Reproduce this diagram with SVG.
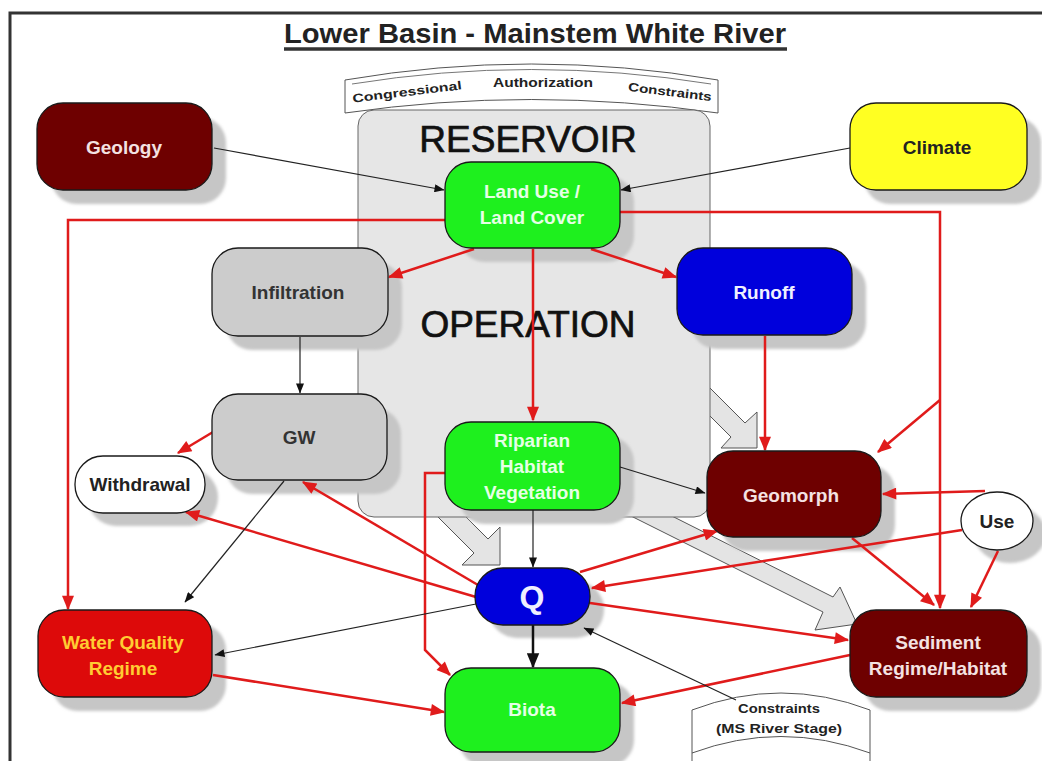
<svg xmlns="http://www.w3.org/2000/svg" width="1042" height="761" viewBox="0 0 1042 761">
  <defs>
    <style>
      .frame { stroke: #333; stroke-width: 3; fill: none; }
      .node { stroke: #1a1a1a; stroke-width: 1.3; }
      .sh { fill: #c6c6c6; filter: url(#soft); }
      .lbl { font-family: "Liberation Sans", Arial, sans-serif; font-weight: bold; font-size: 19px; text-anchor: middle; }
      .big { font-family: "Liberation Sans", Arial, sans-serif; font-size: 37px; text-anchor: middle; fill: #111; stroke: #111; stroke-width: 0.7; }
      .scroll { font-family: "Liberation Sans", Arial, sans-serif; font-weight: bold; font-size: 12px; text-anchor: middle; fill: #222; }
      .red { stroke: #e01b1b; stroke-width: 2.5; fill: none; marker-end: url(#arRed); }
      .blk { stroke: #222; stroke-width: 1.2; fill: none; marker-end: url(#arBlk); }
      .blkbig { stroke: #111; stroke-width: 2.5; fill: none; marker-end: url(#arBlkBig); }
      .block { fill: #e4e4e4; stroke: #555; stroke-width: 1; }
      .green { fill: #1ef01e; }
      .maroon { fill: #6e0000; }
      .blue { fill: #0000dc; }
      .grey { fill: #cccccc; }
      .white { fill: #ffffff; }
    </style>
    <filter id="soft" x="-10%" y="-10%" width="120%" height="120%">
      <feGaussianBlur stdDeviation="1.5"/>
    </filter>
    <marker id="arRed" viewBox="0 0 12 10" refX="11" refY="5" markerWidth="16" markerHeight="12" markerUnits="userSpaceOnUse" orient="auto">
      <path d="M0,0 L12,5 L0,10 z" fill="#e01b1b"/>
    </marker>
    <marker id="arBlk" viewBox="0 0 10 8" refX="9.5" refY="4" markerWidth="11" markerHeight="8" markerUnits="userSpaceOnUse" orient="auto">
      <path d="M0,0 L10,4 L0,8 z" fill="#111"/>
    </marker>
    <marker id="arBlkBig" viewBox="0 0 12 10" refX="11" refY="5" markerWidth="15" markerHeight="13" markerUnits="userSpaceOnUse" orient="auto">
      <path d="M0,0 L12,5 L0,10 z" fill="#111"/>
    </marker>
  </defs>

  <rect x="0" y="0" width="1042" height="761" fill="#ffffff"/>

  <!-- page frame -->
  <path class="frame" d="M10,761 V13 H1042"/>

  <!-- title -->
  <text x="535" y="43" font-family="'Liberation Sans', Arial, sans-serif" font-weight="bold" font-size="27" text-anchor="middle" fill="#222" textLength="502" lengthAdjust="spacingAndGlyphs">Lower Basin - Mainstem White River</text>
  <line x1="284" y1="49" x2="787" y2="49" stroke="#333" stroke-width="3.5"/>

  <!-- authorization ribbon -->
  <g id="authorization">
    <path d="M345,80 Q531,48 718,80 V113 Q531,86 345,113 Z" fill="#ffffff" stroke="#555" stroke-width="1"/>
    <path d="M352,84 Q531,55 711,84" fill="none" stroke="#777" stroke-width="1"/>
    <text class="scroll" x="407" y="96" transform="rotate(-7 407 92)" textLength="110" lengthAdjust="spacingAndGlyphs">Congressional</text>
    <text class="scroll" x="543" y="87" textLength="100" lengthAdjust="spacingAndGlyphs">Authorization</text>
    <text class="scroll" x="670" y="96" transform="rotate(7 670 92)" textLength="84" lengthAdjust="spacingAndGlyphs">Constraints</text>
  </g>

  <!-- broad flow arrows out of the reservoir -->
  <g id="flow-arrows">
    <polygon class="block" points="454,505 488,539 500,527 500,565 462,565 474,553 426,505"/>
    <polygon class="block" points="695,373 745,423 757,412 757,448 721,448 731,437 695,401"/>
    <polygon class="block" points="650,505 833,597 840,587 857,624 815,630 823,612 615,508"/>
  </g>

  <!-- reservoir operation box -->
  <g id="reservoir">
    <rect x="358" y="110" width="352" height="407" rx="16" fill="#e6e6e6" stroke="#666" stroke-width="1"/>
    <text class="big" x="528" y="152">RESERVOIR</text>
    <text class="big" x="528" y="337">OPERATION</text>
  </g>

  <!-- constraints ribbon -->
  <g id="stage-constraints">
    <path d="M692,710 Q781,676 870,710 V761 H692 Z" fill="#ffffff" stroke="none"/>
    <path d="M692,761 V710 Q781,676 870,710 V761" fill="none" stroke="#555" stroke-width="1"/>
    <path d="M692,753 Q781,720 870,753" fill="none" stroke="#555" stroke-width="1"/>
    <text class="scroll" x="779" y="713" font-size="13" textLength="82" lengthAdjust="spacingAndGlyphs">Constraints</text>
    <text class="scroll" x="779" y="733" font-size="13" textLength="126" lengthAdjust="spacingAndGlyphs">(MS River Stage)</text>
  </g>

  <!-- drop shadows, kept beneath the connectors -->
  <g id="shadows">
    <rect class="sh" x="51" y="117" width="175" height="87" rx="26"/>
    <rect class="sh" x="864" y="117" width="177" height="87" rx="26"/>
    <rect class="sh" x="459" y="176" width="175" height="86" rx="26"/>
    <rect class="sh" x="226" y="262" width="176" height="88" rx="26"/>
    <rect class="sh" x="691" y="262" width="175" height="87" rx="26"/>
    <rect class="sh" x="226" y="408" width="175" height="86" rx="26"/>
    <rect class="sh" x="88" y="469" width="130" height="57" rx="28"/>
    <rect class="sh" x="459" y="436" width="175" height="88" rx="26"/>
    <rect class="sh" x="721" y="465" width="174" height="86" rx="26"/>
    <ellipse class="sh" cx="1010" cy="534" rx="36" ry="29"/>
    <rect class="sh" x="489" y="581" width="115" height="57" rx="28"/>
    <rect class="sh" x="52" y="624" width="174" height="87" rx="26"/>
    <rect class="sh" x="459" y="682" width="175" height="84" rx="26"/>
    <rect class="sh" x="864" y="624" width="177" height="87" rx="26"/>
  </g>

  <!-- connectors -->
  <g id="connectors">
    <path class="red" d="M445,220 H68 V609"/>
    <path class="red" d="M620,212 H940 V608"/>
    <path class="red" d="M474,249 L389,277"/>
    <path class="red" d="M591,249 L676,277"/>
    <path class="red" d="M533,249 V420"/>
    <path class="red" d="M765,336 V450"/>
    <path class="red" d="M940,400 L878,452"/>
    <path class="red" d="M213,432 L178,453"/>
    <path class="red" d="M478,585 L303,482"/>
    <path class="red" d="M476,597 L186,512"/>
    <path class="red" d="M213,675 L444,712"/>
    <path class="red" d="M446,473 H425 V650 L450,675"/>
    <path class="red" d="M580,572 L717,531"/>
    <path class="red" d="M962,530 L592,588"/>
    <path class="red" d="M985,491 L883,494"/>
    <path class="red" d="M998,551 L971,607"/>
    <path class="red" d="M852,538 L934,605"/>
    <path class="red" d="M590,603 L848,640"/>
    <path class="red" d="M850,655 L622,703"/>

    <path class="blk" d="M214,148 L444,190"/>
    <path class="blk" d="M850,148 L621,190"/>
    <path class="blk" d="M300,337 V393"/>
    <path class="blk" d="M284,481 L185,602"/>
    <path class="blk" d="M476,604 L215,655"/>
    <path class="blk" d="M533,510 V567"/>
    <path class="blk" d="M620,467 L705,493"/>
    <path class="blk" d="M736,700 L584,628"/>
    <path class="blkbig" d="M533,625 V667"/>
  </g>

  <!-- nodes -->
  <g id="geology">
    <rect class="node maroon" x="37" y="103" width="175" height="87" rx="26"/>
    <text class="lbl" x="124" y="154" fill="#f4e2e2">Geology</text>
  </g>
  <g id="climate">
    <rect class="node" x="850" y="103" width="177" height="87" rx="26" fill="#ffff22"/>
    <text class="lbl" x="937" y="154" fill="#222">Climate</text>
  </g>
  <g id="land-use">
    <rect class="node green" x="445" y="162" width="175" height="86" rx="26"/>
    <text class="lbl" x="532" y="198" fill="#e6ffe6">Land Use /</text>
    <text class="lbl" x="532" y="224" fill="#e6ffe6">Land Cover</text>
  </g>
  <g id="infiltration">
    <rect class="node grey" x="212" y="248" width="176" height="88" rx="26"/>
    <text class="lbl" x="298" y="299" fill="#333">Infiltration</text>
  </g>
  <g id="runoff">
    <rect class="node blue" x="677" y="248" width="175" height="87" rx="26"/>
    <text class="lbl" x="764" y="299" fill="#f0f0ff">Runoff</text>
  </g>
  <g id="gw">
    <rect class="node grey" x="212" y="394" width="175" height="86" rx="26"/>
    <text class="lbl" x="299" y="444" fill="#333">GW</text>
  </g>
  <g id="withdrawal">
    <rect class="node white" x="75" y="456" width="130" height="57" rx="28"/>
    <text class="lbl" x="140" y="491" fill="#222">Withdrawal</text>
  </g>
  <g id="riparian">
    <rect class="node green" x="445" y="422" width="175" height="88" rx="26"/>
    <text class="lbl" x="532" y="447" fill="#e6ffe6">Riparian</text>
    <text class="lbl" x="532" y="473" fill="#e6ffe6">Habitat</text>
    <text class="lbl" x="532" y="499" fill="#e6ffe6">Vegetation</text>
  </g>
  <g id="geomorph">
    <rect class="node maroon" x="707" y="451" width="174" height="86" rx="26"/>
    <text class="lbl" x="791" y="502" fill="#f4e2e2">Geomorph</text>
  </g>
  <g id="use">
    <ellipse class="node white" cx="997" cy="521" rx="36" ry="29"/>
    <text class="lbl" x="997" y="528" fill="#222">Use</text>
  </g>
  <g id="q">
    <rect class="node blue" x="475" y="568" width="115" height="57" rx="28"/>
    <text x="532" y="608" font-family="'Liberation Sans', Arial, sans-serif" font-weight="bold" font-size="32" text-anchor="middle" fill="#f0f0ff">Q</text>
  </g>
  <g id="water-quality">
    <rect class="node" x="38" y="610" width="174" height="87" rx="26" fill="#dd0a0a"/>
    <text class="lbl" x="123" y="649" fill="#ffcc33">Water Quality</text>
    <text class="lbl" x="123" y="675" fill="#ffcc33">Regime</text>
  </g>
  <g id="biota">
    <rect class="node green" x="445" y="668" width="175" height="84" rx="26"/>
    <text class="lbl" x="532" y="716" fill="#e6ffe6">Biota</text>
  </g>
  <g id="sediment">
    <rect class="node maroon" x="850" y="610" width="177" height="87" rx="26"/>
    <text class="lbl" x="938" y="649" fill="#f4e2e2">Sediment</text>
    <text class="lbl" x="938" y="675" fill="#f4e2e2">Regime/Habitat</text>
  </g>
</svg>
